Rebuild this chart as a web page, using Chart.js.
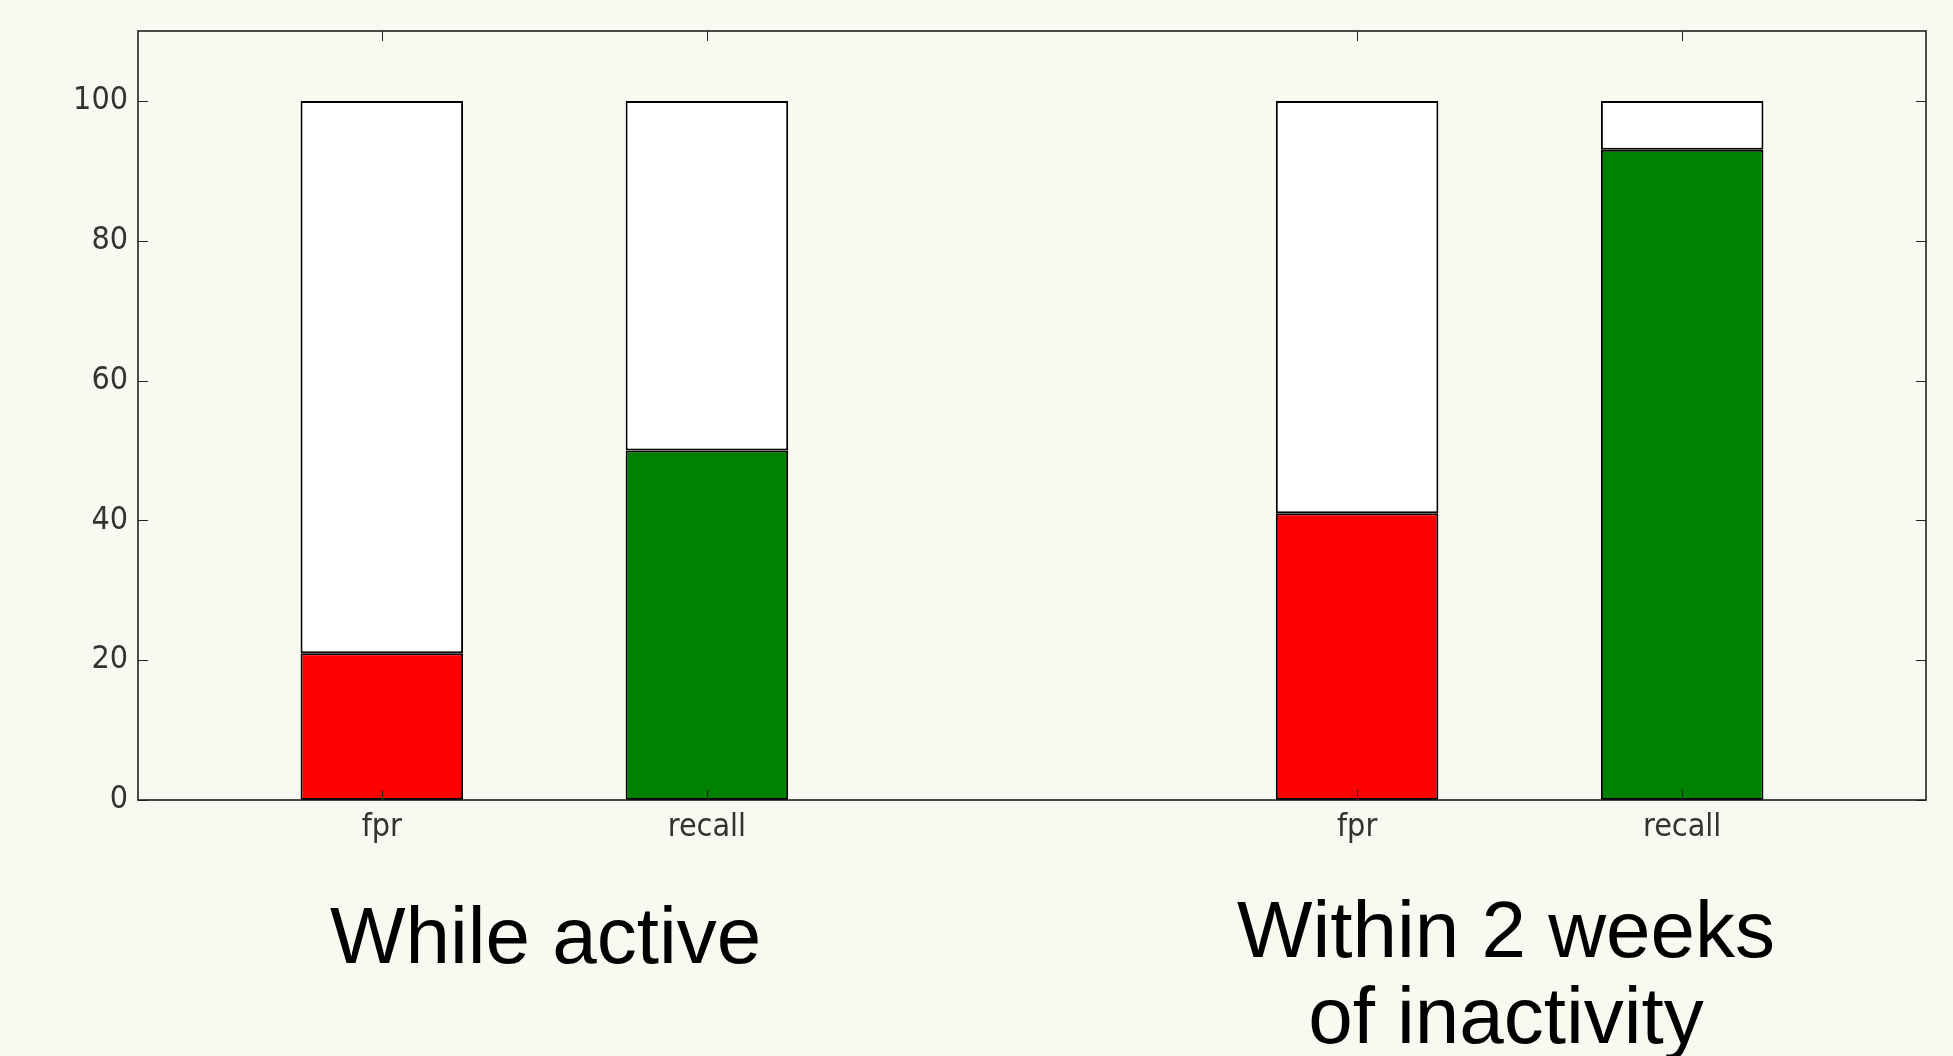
<!DOCTYPE html>
<html>
<head>
<meta charset="utf-8">
<script src="https://cdn.jsdelivr.net/npm/chart.js@4.4.0/dist/chart.umd.min.js"></script>
<style>
  html, body { margin: 0; padding: 0; background: #f9f9f1; }
  #wrap { position: relative; width: 1953px; height: 1056px; overflow: hidden; }
  canvas { position: absolute; left: 0; top: 0; }
  .cap { position: absolute; font-family: "Liberation Sans", Arial, sans-serif; font-size: 80px; color: #000; text-align: center; line-height: 86px; white-space: nowrap; }
</style>
</head>
<body>
<div id="wrap">
  <canvas id="c" width="1953" height="1056"></canvas>
  <div class="cap" style="left:330px; width:400px; top:893px;">While active</div>
  <div class="cap" style="left:1206px; width:600px; top:887px;">Within 2 weeks<br>of inactivity</div>
</div>
<script>
// ---- data ----
const categories = ['fpr', 'recall', 'fpr', 'recall'];
const positions  = [0, 1, 3, 4];
const values     = [21, 50, 41, 93];
const totals     = [100, 100, 100, 100];
const barColors  = ['#ff0000', '#008000', '#ff0000', '#008000'];
const yTicks     = [0, 20, 40, 60, 80, 100];

const frameTicks = {
  id: 'frameTicks',
  afterDatasetsDraw(chart) {
    const ctx = chart.ctx, a = chart.chartArea;
    const xs = chart.scales.x, ys = chart.scales.y;
    ctx.save();
    ctx.strokeStyle = '#111';
    ctx.lineWidth = 1.5;
    ctx.strokeRect(a.left, a.top, a.right - a.left, a.bottom - a.top);
    ctx.strokeStyle = '#222';
    ctx.lineWidth = 1;
    const L = 10;
    ctx.beginPath();
    yTicks.forEach(v => {
      const y = Math.round(ys.getPixelForValue(v)) + 0.5;
      ctx.moveTo(a.left, y); ctx.lineTo(a.left + L, y);
      ctx.moveTo(a.right, y); ctx.lineTo(a.right - L, y);
    });
    positions.forEach(p => {
      const x = Math.round(xs.getPixelForValue(p)) + 0.5;
      ctx.moveTo(x, a.bottom); ctx.lineTo(x, a.bottom - L);
      ctx.moveTo(x, a.top); ctx.lineTo(x, a.top + L);
    });
    ctx.stroke();
    ctx.restore();
  }
};

new Chart(document.getElementById('c'), {
  type: 'bar',
  data: {
    datasets: [
      {
        data: positions.map((p, i) => ({ x: p, y: values[i] })),
        backgroundColor: barColors,
        borderColor: '#000',
        borderWidth: 2,
        borderSkipped: false,
        grouped: false,
        categoryPercentage: 1,
        barPercentage: 0.5
      },
      {
        data: positions.map((p, i) => ({ x: p, y: [values[i], totals[i]] })),
        backgroundColor: '#ffffff',
        borderColor: '#000',
        borderWidth: 2,
        borderSkipped: false,
        grouped: false,
        categoryPercentage: 1,
        barPercentage: 0.5
      }
    ]
  },
  options: {
    responsive: false,
    animation: false,
    layout: { padding: { top: 31, right: 27, bottom: 196, left: 0 } },
    plugins: { legend: { display: false }, tooltip: { enabled: false } },
    scales: {
      x: {
        type: 'linear',
        offset: false,
        min: -0.75,
        max: 4.75,
        afterBuildTicks: s => { s.ticks = positions.map(v => ({ value: v })); },
        afterFit: s => { s.height = 60; },
        grid: { display: false, drawTicks: false, offset: false },
        border: { display: false },
        ticks: {
          padding: 8,
          color: '#333',
          font: { family: '"DejaVu Sans Condensed", "DejaVu Sans", sans-serif', size: 32 },
          callback: (v) => categories[positions.indexOf(v)]
        }
      },
      y: {
        min: 0,
        max: 110,
        afterBuildTicks: s => { s.ticks = yTicks.map(v => ({ value: v })); },
        afterFit: s => { s.width = 138; },
        grid: { display: false, drawTicks: false },
        border: { display: false },
        ticks: {
          padding: 10,
          color: '#333',
          font: { family: '"DejaVu Sans Condensed", "DejaVu Sans", sans-serif', size: 32 }
        }
      }
    }
  },
  plugins: [frameTicks]
});
</script>
</body>
</html>
